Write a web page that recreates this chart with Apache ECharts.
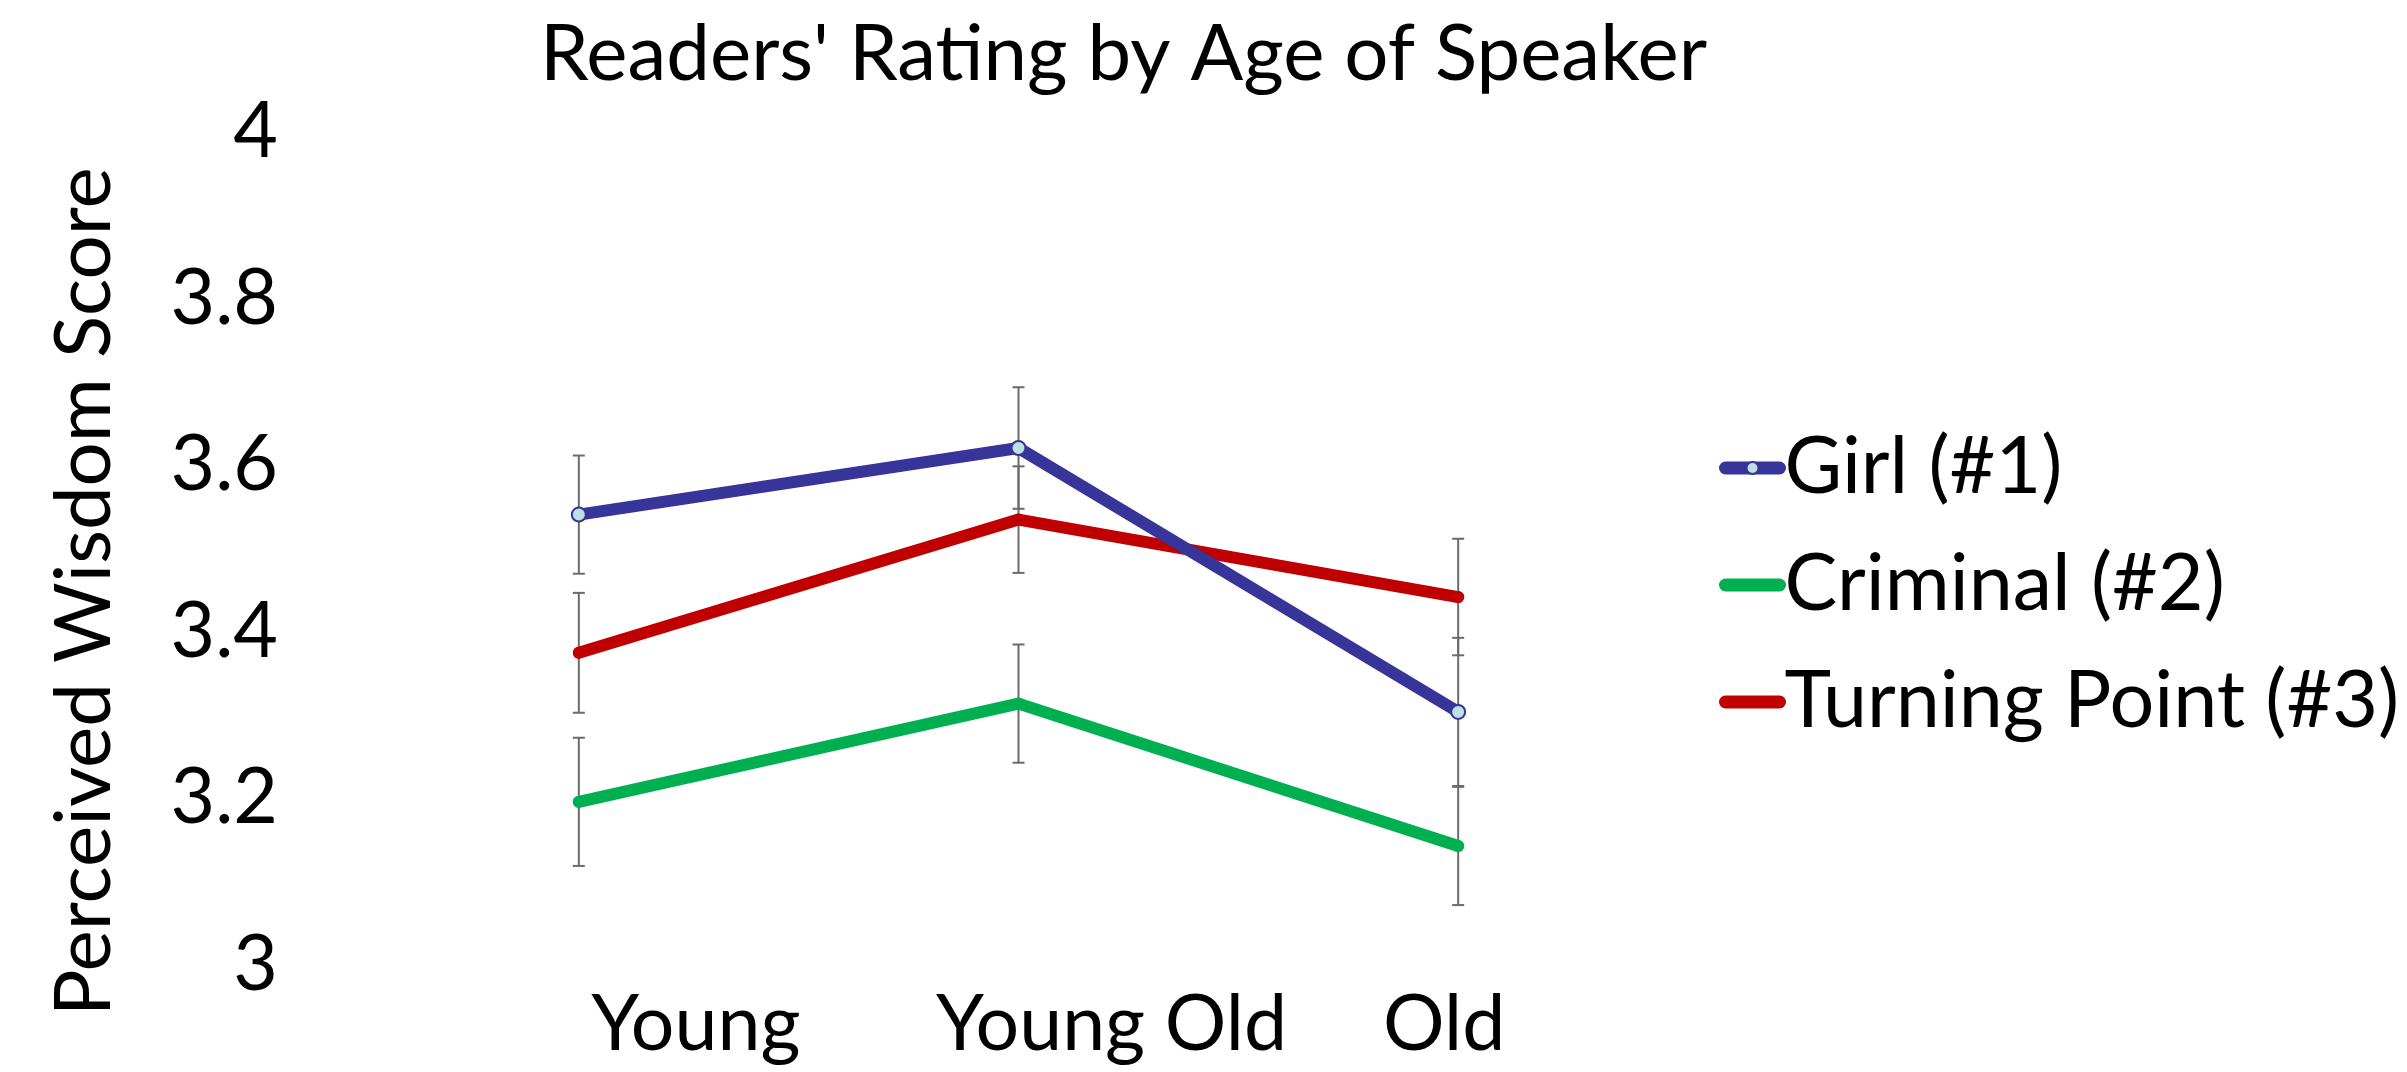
<!DOCTYPE html>
<html>
<head>
<meta charset="utf-8">
<script src="https://cdn.jsdelivr.net/npm/echarts@6/dist/echarts.min.js"></script>
<style>
html,body{margin:0;padding:0;background:#fff;}
#chart{width:2407px;height:1072px;}
</style>
</head>
<body>
<div id="chart"></div>
<script>
// ---- data ----
const categories = ['Young', 'Young Old', 'Old'];
const seriesNames = ['Girl (#1)', 'Criminal (#2)', 'Turning Point (#3)'];
const girl = [3.541, 3.621, 3.304];
const criminal = [3.196, 3.314, 3.143];
const turning = [3.375, 3.535, 3.442];
const girlErr = [0.071, 0.073, 0.089];
const criminalErr = [0.077, 0.071, 0.071];
const turningErr = [0.072, 0.064, 0.070];
const yTicks = [3, 3.2, 3.4, 3.6, 3.8, 4];

// ---- styles ----
const FONT = 'Lato';
const colors = ['#37349A', '#00B050', '#C00000'];
const errColor = '#6B6B6B';

function errData(vals, errs) {
  return vals.map((v, i) => [i, v - errs[i], v + errs[i]]);
}
const allErr = [].concat(
  errData(girl, girlErr),
  errData(criminal, criminalErr),
  errData(turning, turningErr)
);

const chart = echarts.init(document.getElementById('chart'), null, {renderer: 'canvas'});
const labelOffsets = [{padding: [0, 0, 0, 234]}, {padding: [0, 0, 0, 186]}, {padding: [0, 28, 0, 0]}];
const rich = {};
labelOffsets.forEach((o, i) => {
  rich['c' + i] = Object.assign({fontFamily: FONT, fontSize: 77, color: '#000'}, o);
});

chart.setOption({
  backgroundColor: '#fff',
  animation: false,
  title: {
    text: "Readers' Rating by Age of Speaker",
    left: 540,
    top: 16,
    padding: 0,
    textStyle: {fontFamily: FONT, fontSize: 78, fontWeight: 'normal', color: '#000', lineHeight: 78}
  },
  legend: {
    orient: 'vertical',
    left: 1719,
    top: 428,
    padding: 0,
    itemWidth: 54,
    itemHeight: 15,
    itemGap: 37,
    lineStyle: {width: 13, cap: 'round'},
    textStyle: {fontFamily: FONT, fontSize: 79, color: '#000', lineHeight: 80},
    data: seriesNames
  },
  grid: {left: 359, right: 729, top: 132.5, bottom: 107, containLabel: false},
  xAxis: {
    type: 'category',
    data: categories,
    boundaryGap: true,
    axisLine: {show: false},
    axisTick: {show: false},
    splitLine: {show: false},
    axisLabel: {
      margin: 22,
      interval: 0,
      fontFamily: FONT, fontSize: 77, color: '#000',
      formatter: (v, i) => '{c' + i + '|' + v + '}',
      rich: rich
    }
  },
  yAxis: {
    type: 'value',
    min: yTicks[0],
    max: yTicks[yTicks.length - 1],
    interval: 0.2,
    name: 'Perceived Wisdom Score',
    nameLocation: 'middle',
    nameGap: 235,
    nameTextStyle: {fontFamily: FONT, fontSize: 78, color: '#000', lineHeight: 78, padding: [0, 86, 0, 0]},
    axisLine: {show: false},
    axisTick: {show: false},
    splitLine: {show: false},
    axisLabel: {
      margin: 81,
      fontFamily: FONT, fontSize: 77, color: '#000',
      formatter: v => String(Math.round(v * 10) / 10)
    }
  },
  series: [
    {
      type: 'custom',
      name: 'err',
      z: 1,
      silent: true,
      data: allErr,
      encode: {x: 0, y: [1, 2]},
      renderItem: function (params, api) {
        const top = api.coord([api.value(0), api.value(2)]);
        const bot = api.coord([api.value(0), api.value(1)]);
        const hw = 6;
        const st = {stroke: errColor, lineWidth: 2};
        return {
          type: 'group',
          children: [
            {type: 'line', shape: {x1: top[0], y1: top[1], x2: bot[0], y2: bot[1]}, style: st},
            {type: 'line', shape: {x1: top[0] - hw, y1: top[1], x2: top[0] + hw, y2: top[1]}, style: st},
            {type: 'line', shape: {x1: bot[0] - hw, y1: bot[1], x2: bot[0] + hw, y2: bot[1]}, style: st}
          ]
        };
      }
    },
    {
      name: seriesNames[0], type: 'line', data: girl, z: 5,
      symbol: 'circle', symbolSize: 14,
      lineStyle: {color: colors[0], width: 12, cap: 'round', join: 'round'},
      itemStyle: {color: '#BDE0E4', borderColor: colors[0], borderWidth: 2}
    },
    {
      name: seriesNames[1], type: 'line', data: criminal, z: 4,
      symbol: 'circle', symbolSize: 12,
      lineStyle: {color: colors[1], width: 12, cap: 'round', join: 'round'},
      itemStyle: {color: colors[1]}
    },
    {
      name: seriesNames[2], type: 'line', data: turning, z: 3,
      symbol: 'circle', symbolSize: 12,
      lineStyle: {color: colors[2], width: 12, cap: 'round', join: 'round'},
      itemStyle: {color: colors[2]}
    }
  ]
});
</script>
</body>
</html>
